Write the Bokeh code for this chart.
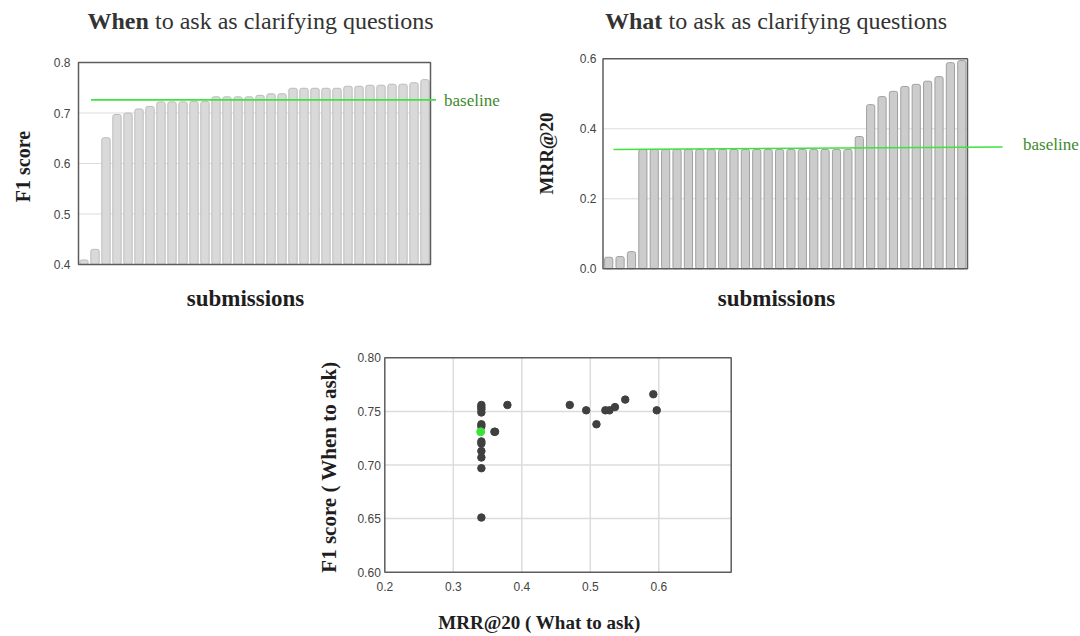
import numpy as np
from bokeh.plotting import figure
from bokeh.models import Range1d, Label
from bokeh.core.properties import value
from bokeh.layouts import column, row
from bokeh.embed import file_html
from bokeh.resources import INLINE

# ---------------- data ----------------
f1_scores = [0.409, 0.430, 0.651, 0.697, 0.700, 0.708, 0.713, 0.722, 0.722, 0.722,
             0.723, 0.723, 0.732, 0.732, 0.732, 0.732, 0.735, 0.738, 0.738, 0.749,
             0.749, 0.749, 0.749, 0.749, 0.753, 0.753, 0.755, 0.755, 0.757, 0.757,
             0.760, 0.766]
mrr_scores = [0.033, 0.035, 0.049] + [0.341] * 19 + [0.378, 0.469, 0.492, 0.507, 0.521,
                                                    0.527, 0.536, 0.549, 0.589, 0.595]
baseline_f1 = [0.726, 0.726]
baseline_mrr = [0.341, 0.348]
f1_ticks = [0.4, 0.5, 0.6, 0.7, 0.8]
mrr_ticks = [0.0, 0.2, 0.4, 0.6]

scatter_mrr = [0.341] * 12 + [0.360, 0.361, 0.379, 0.470, 0.494, 0.509, 0.522, 0.528,
                              0.536, 0.551, 0.592, 0.597]
scatter_f1 = [0.756, 0.754, 0.752, 0.749, 0.738, 0.736, 0.722, 0.720, 0.713, 0.707,
              0.697, 0.651, 0.731, 0.731, 0.756, 0.756, 0.751, 0.738, 0.751, 0.751,
              0.754, 0.761, 0.766, 0.751]
baseline_point_mrr = [0.340]
baseline_point_f1 = [0.731]
scatter_x_ticks = [0.2, 0.3, 0.4, 0.5, 0.6]
scatter_y_ticks = [0.60, 0.65, 0.70, 0.75, 0.80]

SERIF = "Liberation Serif"
SANS = "Liberation Sans"
TITLE_C = "#333333"
LABEL_C = "#1e1e1e"
TICK_C = "#444444"
BASE_LINE_C = "#3fe23f"
BASE_TEXT_C = "#3f8a2c"
BOX_C = "#5c5c5c"
GRID_C = "#dcdcdc"


def lin(v0, p0, v1, p1):
    s = (v1 - v0) / (p1 - p0)
    return lambda px: v0 + (px - p0) * s


class Panel:
    """A figure whose frame covers its whole canvas; page-pixel helpers."""

    def __init__(self, ox, oy, w, h, xmap, ymap):
        self.ox, self.oy, self.w, self.h = ox, oy, w, h
        self.xmap, self.ymap = xmap, ymap
        self.p = figure(width=w, height=h, output_backend="svg", toolbar_location=None,
                        x_axis_location=None, y_axis_location=None,
                        x_range=Range1d(xmap(ox), xmap(ox + w)),
                        y_range=Range1d(ymap(oy + h), ymap(oy)),
                        min_border_left=0, min_border_right=0,
                        min_border_top=0, min_border_bottom=0)
        self.p.outline_line_color = None
        self.p.grid.visible = False
        self.p.background_fill_color = "white"
        self.p.border_fill_color = "white"

    def text(self, text, px, py, size, bold=False, color=LABEL_C, font=SERIF,
             align="left", baseline="alphabetic", angle=0.0):
        # py is the text baseline for horizontal text, the centre for "middle"
        if baseline == "alphabetic":
            py = py - 0.34 * size
        self.p.add_layout(Label(x=px - self.ox, y=self.oy + self.h - py,
                                x_units="screen", y_units="screen", text=text,
                                text_font=font, text_font_size=f"{size}px",
                                text_font_style="bold" if bold else "normal",
                                text_color=color, text_align=align,
                                text_baseline="middle", angle=angle))

    def yticks(self, ticks, fmt, x_at, standoff):
        self.p.text(x=[x_at] * len(ticks), y=ticks, text=[fmt % t for t in ticks],
                    x_offset=-standoff, text_align="right", text_baseline="middle",
                    text_font=value(SANS), text_font_size="12px", text_color=TICK_C)

    def xticks(self, ticks, fmt, y_at, standoff):
        self.p.text(x=ticks, y=[y_at] * len(ticks), text=[fmt % t for t in ticks],
                    y_offset=standoff, text_align="center", text_baseline="top",
                    text_font=value(SANS), text_font_size="12px", text_color=TICK_C)


def bar_panel(vals, ticks, ox, oy, w, h, bl, br, bt, bb, bar_w, fill, edge,
              base_vals, base_px, standoff):
    n = len(vals)
    xm = lin(-0.5, bl, n - 0.5, br)
    ym = lin(ticks[0], bb, ticks[-1], bt)
    P = Panel(ox, oy, w, h, xm, ym)
    p = P.p
    inner = ticks[1:-1]
    p.segment(x0=[-0.5] * len(inner), x1=[n - 0.5] * len(inner), y0=inner, y1=inner,
              line_color=GRID_C, line_width=1)
    p.vbar(x=list(range(n)), top=vals, bottom=ticks[0], width=bar_w,
           fill_color=fill, line_color=edge, line_width=1, border_radius=2)
    p.quad(left=[-0.5], right=[n - 0.5], bottom=[ticks[0]], top=[ticks[-1]],
           fill_color=None, line_color=BOX_C, line_width=1.5)
    p.line(x=[xm(base_px[0]), xm(base_px[1])], y=base_vals, line_color=BASE_LINE_C,
           line_width=1.6)
    P.yticks(ticks, "%.1f", -0.5, standoff)
    return P


# ---------- top-left: When ----------
P1 = bar_panel(f1_scores, f1_ticks, 0, 0, 520, 318, 78, 430, 62, 264, 0.76,
               "#d9d9d9", "#bcbcbc", baseline_f1, (90.5, 435.5), 8)
P1.text("When", 87, 28.5, 24, bold=True, color=TITLE_C)
P1.text("to ask as clarifying questions", 154.5, 28.5, 24, color=TITLE_C)
P1.text("F1 score", 22, 166, 20, bold=True, align="center", baseline="middle",
        angle=np.pi / 2)
P1.text("submissions", 245, 306, 23, bold=True, align="center")
P1.text("baseline", 443.5, 99.5, 17, color=BASE_TEXT_C, baseline="middle")

# ---------- top-right: What ----------
P2 = bar_panel(mrr_scores, mrr_ticks, 520, 0, 560, 318, 602.5, 967, 58.3, 268.3, 0.72,
               "#cccccc", "#a0a0a0", baseline_mrr, (613, 1002), 6.5)
P2.text("What", 604.5, 28.5, 24, bold=True, color=TITLE_C)
P2.text("to ask as clarifying questions", 668, 28.5, 24, color=TITLE_C)
P2.text("MRR@20", 546, 153, 19, bold=True, align="center", baseline="middle",
        angle=np.pi / 2)
P2.text("submissions", 776, 306, 23, bold=True, align="center")
P2.text("baseline", 1022.5, 143.5, 17, color=BASE_TEXT_C, baseline="middle")

# ---------- bottom: scatter ----------
xm3 = lin(0.2, 384.3, 0.6, 658.3)
ym3 = lin(0.60, 571.7, 0.80, 357.3)
P3 = Panel(0, 318, 1080, 318, xm3, ym3)
p3 = P3.p
x_lo, x_hi = xm3(384.3), xm3(730.7)
y_lo, y_hi = scatter_y_ticks[0], scatter_y_ticks[-1]
gx = scatter_x_ticks[1:]
gy = scatter_y_ticks[1:-1]
p3.segment(x0=gx, x1=gx, y0=[y_lo] * len(gx), y1=[y_hi] * len(gx),
           line_color=GRID_C, line_width=1.5)
p3.segment(x0=[x_lo] * len(gy), x1=[x_hi] * len(gy), y0=gy, y1=gy,
           line_color=GRID_C, line_width=1.5)
p3.quad(left=[x_lo], right=[x_hi], bottom=[y_lo], top=[y_hi], fill_color=None,
        line_color=BOX_C, line_width=1.5)
p3.scatter(x=scatter_mrr, y=scatter_f1, size=7.5, fill_color="#404040",
           line_color="#404040")
p3.scatter(x=baseline_point_mrr, y=baseline_point_f1, size=8, fill_color="#3ce23c",
           line_color="#3ce23c")
P3.yticks(scatter_y_ticks, "%.2f", x_lo, 4)
P3.xticks(scatter_x_ticks, "%.1f", y_lo, 10)
P3.text("F1 score ( When to ask)", 328, 466.5, 21, bold=True, align="center",
        baseline="middle", angle=np.pi / 2)
P3.text("MRR@20 ( What to ask)", 539, 628.5, 19, bold=True, align="center")

layout = column(row(P1.p, P2.p), P3.p)
open("out.html", "w").write(file_html(layout, INLINE))
